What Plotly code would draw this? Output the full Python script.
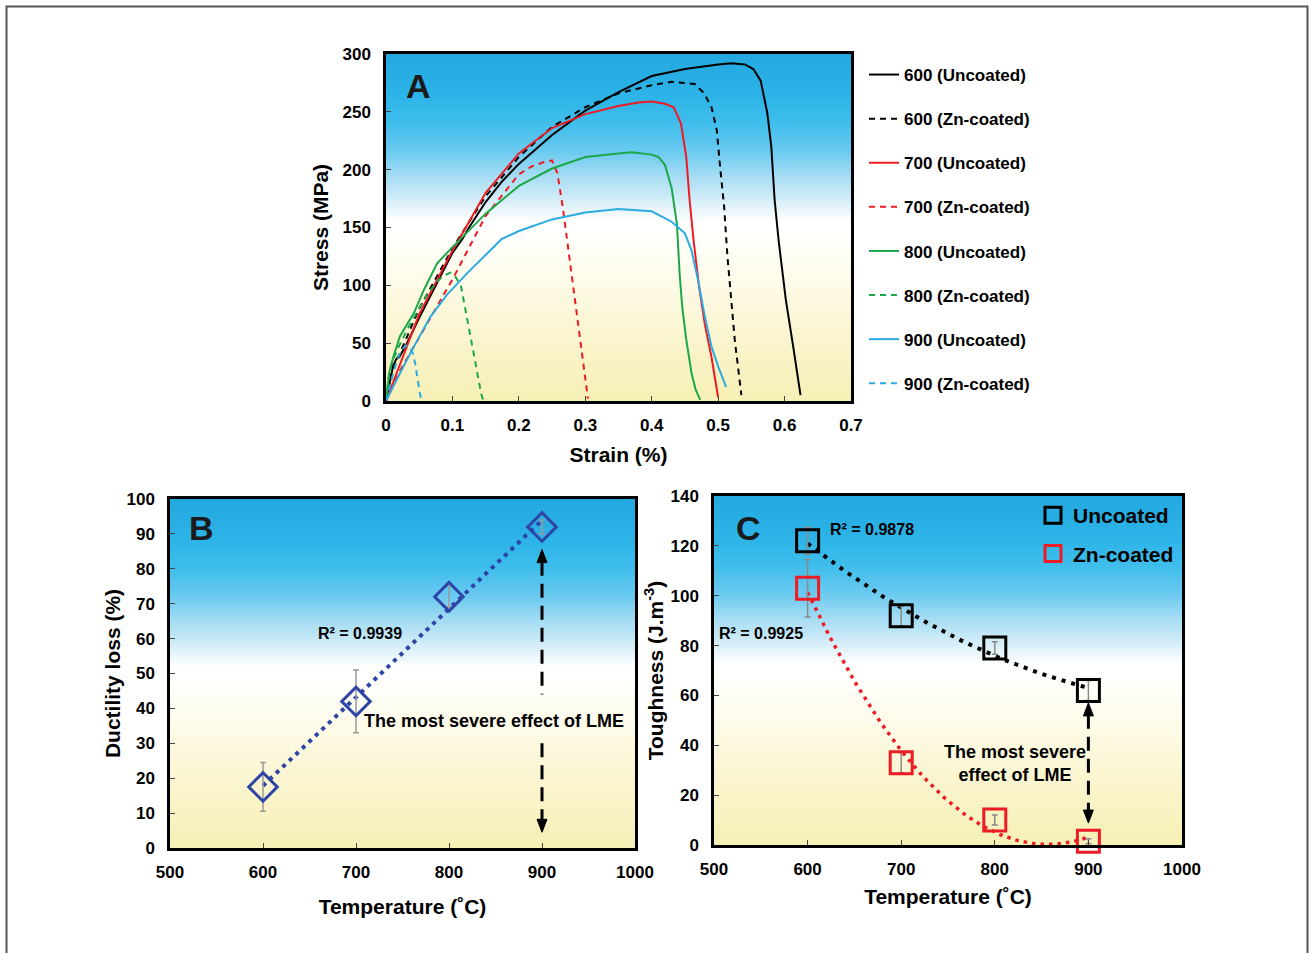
import base64, struct, zlib
import numpy as np
import plotly.graph_objects as go

# ---------------- Panel A data (stress-strain curves) ----------------
strain_600_unc = [0, 0.005, 0.01, 0.015, 0.02, 0.03, 0.05, 0.075, 0.1, 0.115, 0.125, 0.15, 0.175, 0.2, 0.25, 0.3, 0.35, 0.4, 0.45, 0.5, 0.52, 0.54, 0.553, 0.564, 0.574, 0.58, 0.585, 0.591, 0.602, 0.613, 0.624]
stress_600_unc = [0, 15, 28, 36, 38, 48, 72, 100, 128, 140, 150, 172, 190, 205, 230, 251, 267, 281, 287, 291, 292, 291, 287, 277, 249, 220, 174, 139, 87, 47, 5]

strain_600_zn = [0, 0.01, 0.02, 0.05, 0.1, 0.15, 0.2, 0.25, 0.3, 0.35, 0.4, 0.43, 0.465, 0.479, 0.49, 0.498, 0.503, 0.509, 0.514, 0.52, 0.525, 0.535]
stress_600_zn = [0, 30, 40, 80, 132, 177, 211, 237, 254, 266, 273, 276, 274, 266, 254, 234, 202, 168, 125, 87, 53, 5]

strain_700_unc = [0, 0.01, 0.02, 0.05, 0.1, 0.15, 0.2, 0.25, 0.3, 0.35, 0.38, 0.4, 0.42, 0.433, 0.444, 0.452, 0.457, 0.463, 0.471, 0.48, 0.49, 0.5]
stress_700_unc = [0, 15, 30, 75, 130, 180, 214, 236, 248, 255, 258, 259, 257, 254, 240, 211, 174, 139, 100, 66, 38, 3]

strain_700_zn = [0, 0.01, 0.02, 0.05, 0.092, 0.1, 0.15, 0.2, 0.22, 0.24, 0.25, 0.258, 0.266, 0.274, 0.283, 0.291, 0.299, 0.304]
stress_700_zn = [0, 12, 25, 55, 96, 105, 160, 196, 203, 207, 208, 197, 168, 133, 93, 58, 24, 2]

strain_800_unc = [0, 0.005, 0.011, 0.021, 0.042, 0.057, 0.077, 0.1, 0.15, 0.2, 0.25, 0.3, 0.35, 0.37, 0.4, 0.41, 0.42, 0.43, 0.438, 0.442, 0.446, 0.452, 0.46, 0.466, 0.473]
stress_800_unc = [0, 25, 38, 56, 76, 96, 119, 133, 162, 186, 201, 211, 214, 215, 213, 211, 204, 184, 153, 110, 81, 53, 24, 10, 1]

strain_800_zn = [0, 0.005, 0.01, 0.02, 0.035, 0.05, 0.065, 0.08, 0.09, 0.097, 0.105, 0.113, 0.123, 0.133, 0.143, 0.146]
stress_800_zn = [0, 25, 35, 48, 65, 80, 95, 105, 109, 111, 107, 99, 67, 38, 7, 1]

strain_900_unc = [0, 0.01, 0.021, 0.042, 0.067, 0.092, 0.123, 0.153, 0.174, 0.2, 0.25, 0.3, 0.35, 0.4, 0.43, 0.45, 0.46, 0.47, 0.48, 0.49, 0.5, 0.512]
stress_900_unc = [0, 12, 24, 47, 73, 92, 111, 128, 140, 147, 157, 163, 166, 164, 155, 145, 130, 104, 73, 47, 30, 12]

strain_900_zn = [0, 0.005, 0.01, 0.015, 0.02, 0.025, 0.03, 0.035, 0.04, 0.044, 0.047, 0.05, 0.053]
stress_900_zn = [0, 12, 22, 32, 40, 45, 48, 47, 42, 32, 20, 10, 1]

legend_names_A = ["600 (Uncoated)", "600 (Zn-coated)", "700 (Uncoated)", "700 (Zn-coated)",
                  "800 (Uncoated)", "800 (Zn-coated)", "900 (Uncoated)", "900 (Zn-coated)"]

# ---------------- Panel B data ----------------
temps = [600, 700, 800, 900]
ductility_loss = [17.5, 42, 72, 92]
ductility_err = [7, 9, 3, 2]

# ---------------- Panel C data ----------------
tough_unc = [122, 92, 79, 62]
tough_unc_err = [5.5, 4, 2.5, 4]
tough_zn = [103, 33, 10, 1.5]
tough_zn_err = [11.5, 4, 2, 1]

# ---------------- styling ----------------
FONT = "Liberation Sans, Arial, sans-serif"
C_BLACK = "#000000"
C_RED = "#ED1C24"
C_GREEN = "#1BA84B"
C_BLUE = "#2AABE2"
C_DBLUE = "#2E45A8"
W, H = 1309, 953


def gradient_png():
    stops = [(0.0, (36, 168, 224)), (0.12, (45, 180, 232)), (0.2, (64, 190, 236)),
             (0.28, (108, 202, 240)), (0.35, (165, 220, 243)), (0.42, (213, 238, 248)),
             (0.48, (255, 255, 255)), (0.53, (255, 255, 252)), (0.62, (254, 252, 238)),
             (0.78, (251, 246, 212)), (1.0, (247, 240, 182))]
    h, w = 256, 4
    raw = b""
    for i in range(h):
        t = i / (h - 1)
        for k in range(len(stops) - 1):
            if stops[k][0] <= t <= stops[k + 1][0]:
                a, b = stops[k], stops[k + 1]
                f = (t - a[0]) / (b[0] - a[0])
                c = [int(round(a[1][j] + f * (b[1][j] - a[1][j]))) for j in range(3)]
                break
        raw += b"\x00" + bytes(c) * w

    def chunk(tag, data):
        return struct.pack(">I", len(data)) + tag + data + struct.pack(">I", zlib.crc32(tag + data) & 0xffffffff)

    png = b"\x89PNG\r\n\x1a\n" + chunk(b"IHDR", struct.pack(">IIBBBBB", w, h, 8, 2, 0, 0, 0)) \
        + chunk(b"IDAT", zlib.compress(raw, 9)) + chunk(b"IEND", b"")
    return "data:image/png;base64," + base64.b64encode(png).decode()


GRAD = gradient_png()

fig = go.Figure()

curves = [
    (strain_600_unc, stress_600_unc, C_BLACK, "solid"),
    (strain_600_zn, stress_600_zn, C_BLACK, "6px,5px"),
    (strain_700_unc, stress_700_unc, C_RED, "solid"),
    (strain_700_zn, stress_700_zn, C_RED, "6px,5px"),
    (strain_800_unc, stress_800_unc, C_GREEN, "solid"),
    (strain_800_zn, stress_800_zn, C_GREEN, "6px,5px"),
    (strain_900_unc, stress_900_unc, C_BLUE, "solid"),
    (strain_900_zn, stress_900_zn, C_BLUE, "6px,5px"),
]
for name, (xs, ys, col, dash) in zip(legend_names_A, curves):
    fig.add_trace(go.Scatter(x=xs, y=ys, mode="lines", name=name, legendgroup=name,
                             line=dict(color=col, width=2, dash=dash),
                             xaxis="x", yaxis="y", legend="legend"))

# Panel B
b_fit = np.polyfit(temps, ductility_loss, 1)
b_x = np.linspace(temps[0], temps[-1], 60)
fig.add_trace(go.Scatter(x=b_x, y=np.polyval(b_fit, b_x), mode="lines", showlegend=False,
                         line=dict(color=C_DBLUE, width=4, dash="4px,5px"), xaxis="x2", yaxis="y2"))
fig.add_trace(go.Scatter(x=temps, y=ductility_loss, mode="markers", showlegend=False,
                         marker=dict(symbol="diamond-open", size=22, color=C_DBLUE, line=dict(width=3, color=C_DBLUE)),
                         error_y=dict(type="data", array=ductility_err, color="#9A9A9A", thickness=1.5, width=3),
                         xaxis="x2", yaxis="y2", cliponaxis=False))

# Panel C
c_x = np.linspace(temps[0], temps[-1], 80)
u_fit = np.polyfit(temps, tough_unc, 2)
z_fit = np.polyfit(temps, tough_zn, 2)
fig.add_trace(go.Scatter(x=c_x, y=np.polyval(u_fit, c_x), mode="lines", showlegend=False,
                         line=dict(color=C_BLACK, width=4, dash="4px,6px"), xaxis="x3", yaxis="y3"))
fig.add_trace(go.Scatter(x=c_x, y=np.polyval(z_fit, c_x), mode="lines", showlegend=False,
                         line=dict(color=C_RED, width=3.5, dash="3.5px,5px"), xaxis="x3", yaxis="y3"))
fig.add_trace(go.Scatter(x=temps, y=tough_unc, mode="markers", name="Uncoated", legendgroup="unc",
                         marker=dict(symbol="square-open", size=22, color=C_BLACK, line=dict(width=3, color=C_BLACK)),
                         error_y=dict(type="data", array=tough_unc_err, color="#8A8A8A", thickness=1.5, width=3),
                         xaxis="x3", yaxis="y3", legend="legend2", cliponaxis=False))
fig.add_trace(go.Scatter(x=temps, y=tough_zn, mode="markers", name="Zn-coated", legendgroup="zn",
                         marker=dict(symbol="square-open", size=22, color=C_RED, line=dict(width=3, color=C_RED)),
                         error_y=dict(type="data", array=tough_zn_err, color="#8A8A8A", thickness=1.5, width=3),
                         xaxis="x3", yaxis="y3", legend="legend2", cliponaxis=False))


def px_x(p):
    return p / W


def px_y(p):
    return 1 - p / H


tickfont = dict(family=FONT, size=17, color="black", weight="bold")


def ax_common(rng, dtick, title, standoff, letter):
    return dict(range=rng, dtick=dtick, showgrid=False, zeroline=False, showline=True, mirror=True,
                linecolor="black", linewidth=2.5, ticks="inside", ticklen=5, tickwidth=1, tickcolor="#444",
                tickfont=tickfont, ticklabelstandoff=7 if letter == "x" else 9,
                title=dict(text=title, font=dict(family=FONT, size=21, color="black", weight="bold"),
                           standoff=standoff))


fig.update_layout(
    width=W, height=H, margin=dict(l=0, r=0, t=0, b=0, autoexpand=False),
    paper_bgcolor="white", plot_bgcolor="white",
    xaxis=dict(domain=[px_x(386), px_x(851)], anchor="y", **ax_common([0, 0.7], 0.1, "Strain (%)", 14, "x")),
    yaxis=dict(domain=[px_y(401), px_y(54)], anchor="x", **ax_common([0, 300], 50, "Stress (MPa)", 9, "y")),
    xaxis2=dict(domain=[px_x(170), px_x(635)], anchor="y2", **ax_common([500, 1000], 100, "Temperature (˚C)", 19, "x")),
    yaxis2=dict(domain=[px_y(848), px_y(499)], anchor="x2", **ax_common([0, 100], 10, "Ductility loss (%)", 1, "y")),
    xaxis3=dict(domain=[px_x(714), px_x(1182)], anchor="y3", **ax_common([500, 1000], 100, "Temperature (˚C)", 12, "x")),
    yaxis3=dict(domain=[px_y(845), px_y(496)], anchor="x3", **ax_common([0, 140], 20, "Toughness (J.m<sup>-3</sup>)", 2, "y")),
    legend=dict(x=px_x(864), y=px_y(57), xanchor="left", yanchor="top", bgcolor="rgba(0,0,0,0)",
                font=dict(family=FONT, size=17, color="black", weight="bold"), tracegroupgap=19,
                itemwidth=30),
    legend2=dict(x=px_x(1033), y=px_y(495), xanchor="left", yanchor="top", bgcolor="rgba(0,0,0,0)",
                 font=dict(family=FONT, size=21, color="black", weight="bold"), tracegroupgap=8,
                 itemwidth=30),
    showlegend=True,
)

# gradient backgrounds
for ax in ["x", "x2", "x3"]:
    ay = ax.replace("x", "y")
    fig.add_layout_image(dict(source=GRAD, xref=f"{ax} domain", yref=f"{ay} domain", x=0, y=1,
                              sizex=1, sizey=1, xanchor="left", yanchor="top", sizing="stretch",
                              layer="below"))

# outer frame
fig.add_shape(type="rect", xref="paper", yref="paper", x0=px_x(6.5), x1=px_x(1307.5), y0=-0.05, y1=px_y(6.5),
              line=dict(color="#555555", width=2), fillcolor="rgba(0,0,0,0)", layer="below")

# panel letters
for ax, letter, xd, yd in [("x", "A", 0.069, 0.908), ("x2", "B", 0.067, 0.917), ("x3", "C", 0.073, 0.908)]:
    ay = ax.replace("x", "y")
    fig.add_annotation(xref=f"{ax} domain", yref=f"{ay} domain", x=xd, y=yd, text=letter, showarrow=False,
                       xanchor="center", yanchor="middle",
                       font=dict(family=FONT, size=34, color="#1a1a1a", weight="bold"))

annfont = dict(family=FONT, size=18, color="black", weight="bold")
r2font = dict(family=FONT, size=16, color="black", weight="bold")
fig.add_annotation(xref="x2", yref="y2", x=704, y=61.6, text="R² = 0.9939", showarrow=False, font=r2font)
fig.add_annotation(xref="x2", yref="y2", x=848, y=36.4, text="The most severe effect of LME", showarrow=False, font=annfont)
fig.add_annotation(xref="x3", yref="y3", x=669, y=126.4, text="R² = 0.9878", showarrow=False, font=r2font)
fig.add_annotation(xref="x3", yref="y3", x=550, y=85, text="R² = 0.9925", showarrow=False, font=r2font)
fig.add_annotation(xref="x3", yref="y3", x=821.6, y=32.5, text="The most severe<br>effect of LME",
                   showarrow=False, font=annfont, align="center")

# dashed double arrows (dashed shaft + pixel-sized triangular heads)
dash_line = dict(color="black", width=3, dash="14px,8px")
fig.add_shape(type="line", xref="x2", yref="y2", x0=900, x1=900, y0=82, y1=44, line=dash_line)
fig.add_shape(type="line", xref="x2", yref="y2", x0=900, x1=900, y0=30, y1=8, line=dash_line)
fig.add_shape(type="line", xref="x3", yref="y3", x0=900, x1=900, y0=52.2, y1=13.6, line=dash_line)
head_up = "M0,0 L-5,-13 L5,-13 Z"
head_down = "M0,0 L-5,13 L5,13 Z"
for xr, yr, tip, path in [("x2", "y2", 85.5, head_up), ("x2", "y2", 4.5, head_down),
                          ("x3", "y3", 57, head_up), ("x3", "y3", 8.8, head_down)]:
    fig.add_shape(type="path", xref=xr, yref=yr, xsizemode="pixel", ysizemode="pixel",
                  xanchor=900, yanchor=tip, path=path, fillcolor="black", line=dict(color="black", width=1))

fig.write_html("out.html")
